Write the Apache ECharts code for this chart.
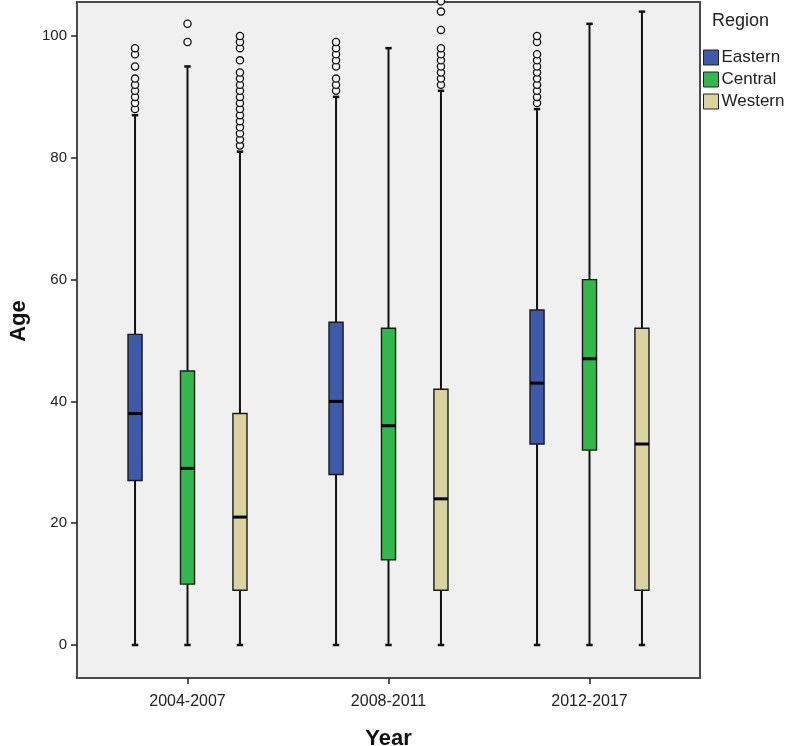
<!DOCTYPE html>
<html><head><meta charset="utf-8">
<script src="https://cdn.jsdelivr.net/npm/echarts@6/dist/echarts.min.js"></script>
<style>html,body{margin:0;padding:0;background:#fff}#c{width:787px;height:746px}</style>
</head><body><div id="c"></div>
<script>
const categories = ['2004-2007', '2008-2011', '2012-2017'];
const regions = ['Eastern', 'Central', 'Western'];
// [whiskerLow, Q1, median, Q3, whiskerHigh]
const easternStats = [[0, 27, 38, 51, 87], [0, 28, 40, 53, 90], [0, 33, 43, 55, 88]];
const centralStats = [[0, 10, 29, 45, 95], [0, 14, 36, 52, 98], [0, 32, 47, 60, 102]];
const westernStats = [[0, 9, 21, 38, 81], [0, 9, 24, 42, 91], [0, 9, 33, 52, 104]];
const easternOutliers = [[88, 89, 90, 91, 92, 93, 95, 97, 98], [91, 92, 93, 95, 96, 97, 98, 99], [89, 90, 91, 92, 93, 94, 95, 96, 97, 99, 100]];
const centralOutliers = [[99, 102], [], []];
const westernOutliers = [[82, 83, 84, 85, 86, 87, 88, 89, 90, 91, 92, 93, 94, 96, 98, 99, 100], [92, 93, 94, 95, 96, 97, 98, 101, 104, 105.7], []];
const yTicks = [0, 20, 40, 60, 80, 100];

const colors = ['#3E5BAB', '#30B94A', '#D9D3A0'];
const offsets = [-0.261, 0, 0.261];
const statsList = [easternStats, centralStats, westernStats];
const outList = [easternOutliers, centralOutliers, westernOutliers];
const FONT = 'Liberation Sans, Arial, sans-serif';
const Y_MIN = -5.42, Y_MAX = 105.58;

function boxRenderer(off) {
  return function (params, api) {
    const i = api.value(0);
    const band = api.size([1, 0])[0];
    const boxW = band * 0.07, capW = band * 0.032;
    const x = api.coord([i, 0])[0] + band * off;
    const yLow = api.coord([i, api.value(1)])[1];
    const yQ1 = api.coord([i, api.value(2)])[1];
    const yMed = api.coord([i, api.value(3)])[1];
    const yQ3 = api.coord([i, api.value(4)])[1];
    const yHigh = api.coord([i, api.value(5)])[1];
    const ink = '#111';
    return {
      type: 'group', children: [
        { type: 'line', shape: { x1: x, y1: yHigh, x2: x, y2: yLow }, style: { stroke: ink, lineWidth: 2 } },
        { type: 'line', shape: { x1: x - capW / 2, y1: yHigh, x2: x + capW / 2, y2: yHigh }, style: { stroke: ink, lineWidth: 2.5 } },
        { type: 'line', shape: { x1: x - capW / 2, y1: yLow, x2: x + capW / 2, y2: yLow }, style: { stroke: ink, lineWidth: 2.5 } },
        { type: 'rect', shape: { x: x - boxW / 2, y: yQ3, width: boxW, height: yQ1 - yQ3 }, style: { fill: api.visual('color'), stroke: '#1a1a1a', lineWidth: 1.4 } },
        { type: 'line', shape: { x1: x - boxW / 2, y1: yMed, x2: x + boxW / 2, y2: yMed }, style: { stroke: '#000', lineWidth: 3 } }
      ]
    };
  };
}
function outlierRenderer(off) {
  return function (params, api) {
    const i = api.value(0);
    const band = api.size([1, 0])[0];
    const p = api.coord([i, api.value(1)]);
    return { type: 'circle', shape: { cx: p[0] + band * off, cy: p[1], r: 3.6 }, style: { fill: '#F8F8F8', stroke: '#111', lineWidth: 1.3 } };
  };
}

const series = [];
regions.forEach((name, k) => {
  series.push({
    name: name, type: 'custom', xAxisIndex: 1, yAxisIndex: 1,
    itemStyle: { color: colors[k] },
    renderItem: boxRenderer(offsets[k]),
    encode: { x: 0, y: [1, 2, 3, 4, 5] },
    data: statsList[k].map((s, i) => [i].concat(s)),
    clip: false, z: 2
  });
});
regions.forEach((name, k) => {
  const d = [];
  outList[k].forEach((arr, i) => arr.forEach(v => d.push([i, v])));
  series.push({
    name: name + ' outliers', type: 'custom', xAxisIndex: 1, yAxisIndex: 1,
    renderItem: outlierRenderer(offsets[k]),
    encode: { x: 0, y: 1 },
    data: d, clip: false, z: 3
  });
});

const chart = echarts.init(document.getElementById('c'), null, { renderer: 'canvas' });
chart.setOption({
  animation: false,
  backgroundColor: '#ffffff',
  textStyle: { fontFamily: FONT },
  title: { text: 'Region', left: 712, top: 12, padding: 0, textStyle: { fontSize: 18, fontWeight: 'normal', color: '#222', fontFamily: FONT } },
  legend: {
    data: regions, orient: 'vertical', left: 703, top: 49, padding: 0,
    itemWidth: 15, itemHeight: 15, itemGap: 5, icon: 'rect',
    itemStyle: { borderColor: '#222', borderWidth: 1 },
    textStyle: { fontSize: 17, color: '#222', fontFamily: FONT, padding: [0, 0, 0, -2] },
    selectedMode: false
  },
  grid: [
    { left: 77, top: 2, width: 623, height: 676, show: true, backgroundColor: '#F0F0F0', borderColor: '#4a4a4a', borderWidth: 2, containLabel: false, outerBoundsMode: 'none' },
    { left: 87, top: 2, width: 603, height: 676, containLabel: false, outerBoundsMode: 'none' }
  ],
  xAxis: [
    { type: 'value', gridIndex: 0, show: false, min: 0, max: 1 },
    {
      type: 'category', gridIndex: 1, data: categories, boundaryGap: true, position: 'bottom',
      axisLine: { show: false, onZero: false },
      axisTick: { show: true, alignWithLabel: true, length: 6, lineStyle: { color: '#222', width: 1.5 } },
      axisLabel: { fontSize: 16, color: '#222', margin: 16, fontFamily: FONT },
      name: 'Year', nameLocation: 'middle', nameGap: 50,
      nameTextStyle: { fontSize: 22, fontWeight: 'bold', color: '#111', fontFamily: FONT }
    }
  ],
  yAxis: [
    {
      type: 'value', gridIndex: 0, min: Y_MIN, max: Y_MAX,
      axisLine: { show: false },
      axisTick: { show: true, length: 6, customValues: yTicks, lineStyle: { color: '#222', width: 1.5 } },
      axisLabel: { fontSize: 15, color: '#222', margin: 10, customValues: yTicks, fontFamily: FONT },
      splitLine: { show: false }
    },
    { type: 'value', gridIndex: 1, min: Y_MIN, max: Y_MAX, show: false, splitLine: { show: false } }
  ],
  graphic: [
    { type: 'text', x: 19, y: 321, rotation: Math.PI / 2, style: { text: 'Age', font: 'bold 22px ' + FONT, fill: '#111', textAlign: 'center', textVerticalAlign: 'middle' } }
  ],
  series: series
});
</script></body></html>
